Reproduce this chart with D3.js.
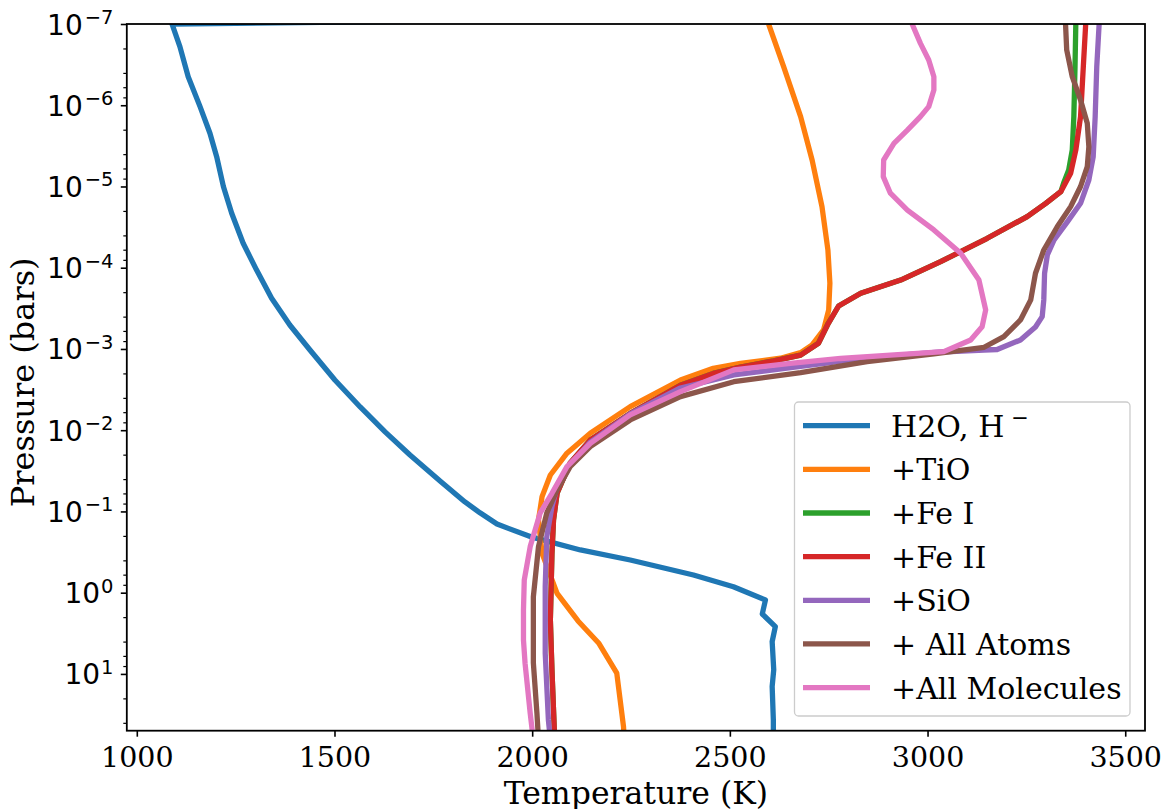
<!DOCTYPE html>
<html>
<head>
<meta charset="utf-8">
<script src="https://cdn.jsdelivr.net/npm/d3@7"></script>
<style>
  body { margin: 0; background: #fff; }
  svg { display: block; }
</style>
</head>
<body>
<svg id="chart"></svg>
<script>
const WIDTH = 1167;
const HEIGHT = 809;

// temperature (K) and pressure (bars) of each profile
const h2oT = [2980, 1089, 1109, 1130, 1160, 1185, 1202, 1219, 1240, 1269, 1303, 1341, 1387, 1438, 1501, 1565, 1628, 1691, 1767, 1830, 1868, 1911, 1995, 2122, 2248, 2408, 2509, 2590, 2582, 2615, 2607, 2611, 2607, 2610, 2610];
const h2oP = [7.9e-8, 1e-7, 1.9e-7, 4.45e-7, 1.04e-6, 2.21e-6, 4.3e-6, 1e-5, 2.14e-5, 5e-5, 1.07e-4, 2.38e-4, 5.07e-4, 1.03e-3, 2.41e-3, 5.18e-3, 1.05e-2, 2.02e-2, 4.21e-2, 7.64e-2, 0.104, 0.143, 0.204, 0.298, 0.396, 0.606, 0.844, 1.23, 1.83, 2.62, 4.0, 8.9, 14.3, 36.8, 65];

const tioT = [2598, 2636, 2679, 2708, 2733, 2748, 2753, 2750, 2737, 2708, 2679, 2628, 2527, 2458, 2375, 2248, 2147, 2088, 2046, 2025, 2016, 2025, 2063, 2116, 2168, 2214, 2231, 2233];
const tioP = [1e-7, 3.35e-7, 1.38e-6, 4.72e-6, 1.77e-5, 6.05e-5, 1.55e-4, 3.31e-4, 5.84e-4, 8.93e-4, 1.11e-3, 1.30e-3, 1.50e-3, 1.73e-3, 2.41e-3, 5.13e-3, 1.09e-2, 1.92e-2, 3.56e-2, 6.58e-2, 0.127, 0.327, 1.02, 2.23, 4.16, 9.81, 44.6, 65];

const feIT = [3375, 3373, 3370, 3366, 3357, 3344, 3337, 3299, 3252, 3151, 3033, 2932, 2831, 2775, 2749, 2724, 2679, 2611, 2527, 2458, 2375, 2248, 2147, 2096, 2063, 2054, 2050, 2046, 2050, 2056, 2057];
const feIP = [1e-7, 3.35e-7, 1.38e-6, 3.56e-6, 6.27e-6, 9.13e-6, 1.16e-5, 1.61e-5, 2.35e-5, 4.34e-5, 8.43e-5, 1.42e-4, 2.06e-4, 2.96e-4, 4.83e-4, 8.51e-4, 1.19e-3, 1.40e-3, 1.67e-3, 2.0e-3, 2.8e-3, 6.2e-3, 1.32e-2, 2.53e-2, 5.98e-2, 0.127, 0.328, 2.17, 8.93, 48.9, 65];

const feIIT = [3400, 3394, 3387, 3375, 3362, 3337, 3299, 3252, 3151, 3033, 2932, 2831, 2775, 2749, 2724, 2679, 2611, 2527, 2458, 2375, 2248, 2147, 2096, 2063, 2054, 2050, 2046, 2050, 2056, 2057];
const feIIP = [1e-7, 3.35e-7, 1.38e-6, 3.56e-6, 6.88e-6, 1.16e-5, 1.61e-5, 2.35e-5, 4.34e-5, 8.43e-5, 1.42e-4, 2.06e-4, 2.96e-4, 4.83e-4, 8.51e-4, 1.19e-3, 1.40e-3, 1.67e-3, 2.0e-3, 2.8e-3, 6.2e-3, 1.32e-2, 2.53e-2, 5.98e-2, 0.127, 0.328, 2.17, 8.93, 48.9, 65];

const sioT = [3434, 3428, 3424, 3419, 3408, 3387, 3354, 3320, 3303, 3296, 3294, 3290, 3273, 3235, 3176, 3143, 3033, 2847, 2679, 2510, 2375, 2248, 2147, 2096, 2061, 2050, 2037, 2033, 2033, 2041, 2046];
const sioP = [1e-7, 3.35e-7, 1.38e-6, 4.3e-6, 8.32e-6, 1.61e-5, 2.71e-5, 4.55e-5, 6.97e-5, 1.17e-4, 2.49e-4, 4.0e-4, 5.36e-4, 7.75e-4, 1.015e-3, 1.03e-3, 1.09e-3, 1.29e-3, 1.64e-3, 2.09e-3, 3.02e-3, 6.31e-3, 1.40e-2, 2.68e-2, 5.44e-2, 8.73e-2, 0.204, 0.843, 5.57, 36.8, 65];

const atomsT = [3349, 3352, 3366, 3387, 3404, 3408, 3404, 3387, 3362, 3328, 3294, 3273, 3261, 3235, 3193, 3143, 3016, 2847, 2679, 2510, 2375, 2248, 2147, 2096, 2063, 2037, 2016, 2003, 2003, 2012, 2016];
const atomsP = [1e-7, 2.09e-7, 4.45e-7, 8.62e-7, 1.67e-6, 3.24e-6, 5.71e-6, 1.0e-5, 1.77e-5, 3.13e-5, 6.05e-5, 1.17e-4, 2.49e-4, 4.4e-4, 7.06e-4, 9.53e-4, 1.15e-3, 1.43e-3, 1.95e-3, 2.53e-3, 3.86e-3, 7.48e-3, 1.59e-2, 2.81e-2, 5.44e-2, 0.104, 0.271, 1.12, 7.32, 30.2, 65];

const molT = [2961, 2982, 3003, 3016, 3016, 3003, 2982, 2949, 2915, 2889, 2888, 2906, 2949, 3016, 3084, 3130, 3147, 3138, 3109, 3041, 2906, 2780, 2653, 2510, 2375, 2248, 2147, 2088, 2050, 2020, 1995, 1980, 1978, 1978, 1982, 1995, 2003];
const molP = [1e-7, 1.73e-7, 2.77e-7, 4.45e-7, 6.49e-7, 1.04e-6, 1.38e-6, 2.02e-6, 2.94e-6, 4.72e-6, 7.57e-6, 1.21e-5, 1.95e-5, 3.43e-5, 6.64e-5, 1.42e-4, 3.31e-4, 5.32e-4, 7.75e-4, 1.08e-3, 1.19e-3, 1.31e-3, 1.50e-3, 1.81e-3, 3.35e-3, 6.49e-3, 1.45e-2, 2.81e-2, 5.98e-2, 0.105, 0.271, 0.697, 1.63, 3.82, 7.39, 30.5, 65];

const labels = ['H2O, H', '+TiO', '+Fe I', '+Fe II', '+SiO', '+ All Atoms', '+All Molecules'];
const colors = ['#1f77b4', '#ff7f0e', '#2ca02c', '#d62728', '#9467bd', '#8c564b', '#e377c2'];
const xTicks = [1000, 1500, 2000, 2500, 3000, 3500];
const yExponents = [-7, -6, -5, -4, -3, -2, -1, 0, 1];

const profiles = [
  [h2oT, h2oP], [tioT, tioP], [feIT, feIP], [feIIT, feIIP],
  [sioT, sioP], [atomsT, atomsP], [molT, molP],
].map(([T, P], i) => ({
  label: labels[i],
  color: colors[i],
  points: T.map((t, j) => ({ t, p: P[j] })),
}));

const plot = { left: 126.8, right: 1145, top: 24, bottom: 730.7 };
const SERIF = '"DejaVu Serif", serif';
const SANS = '"DejaVu Sans", sans-serif';

const svg = d3.select('#chart')
  .attr('width', WIDTH)
  .attr('height', HEIGHT);

const xScale = d3.scaleLinear()
  .domain([974.7, 3550])
  .range([plot.left, plot.right]);
const yScale = d3.scaleLog()
  .domain([1e-7, 50])
  .range([plot.top, plot.bottom]);

svg.append('clipPath')
  .attr('id', 'plot-clip')
  .append('rect')
  .attr('x', plot.left)
  .attr('y', plot.top)
  .attr('width', plot.right - plot.left)
  .attr('height', plot.bottom - plot.top);

const line = d3.line()
  .x(d => xScale(d.t))
  .y(d => yScale(d.p));

svg.append('g')
  .attr('clip-path', 'url(#plot-clip)')
  .selectAll('path')
  .data(profiles)
  .enter()
  .append('path')
  .attr('d', d => line(d.points))
  .attr('fill', 'none')
  .attr('stroke', d => d.color)
  .attr('stroke-width', 5.3)
  .attr('stroke-linejoin', 'round');

// axes
const bottomAxis = d3.axisBottom(xScale)
  .tickValues(xTicks)
  .tickSize(6)
  .tickSizeOuter(0)
  .tickFormat(d3.format('d'));
const gx = svg.append('g')
  .attr('transform', `translate(0, ${plot.bottom})`)
  .call(bottomAxis);
gx.select('.domain').remove();
gx.selectAll('line').attr('stroke', '#000').attr('stroke-width', 1.6);
gx.selectAll('text')
  .attr('y', 36.5)
  .attr('dy', 0)
  .attr('fill', '#000')
  .style('font-family', SERIF)
  .style('font-size', '28.5px');

const minorTicks = [];
yExponents.forEach(e => [2, 4, 6, 8].forEach(m => {
  const v = m * Math.pow(10, e);
  if (v <= 50) minorTicks.push(v);
}));

const gyMinor = svg.append('g')
  .attr('transform', `translate(${plot.left}, 0)`)
  .call(d3.axisLeft(yScale).tickValues(minorTicks).tickSize(3.5).tickSizeOuter(0).tickFormat(''));
gyMinor.select('.domain').remove();
gyMinor.selectAll('line').attr('stroke', '#000').attr('stroke-width', 1.2);

const gy = svg.append('g')
  .attr('transform', `translate(${plot.left}, 0)`)
  .call(d3.axisLeft(yScale)
    .tickValues(yExponents.map(e => Math.pow(10, e)))
    .tickSize(6)
    .tickSizeOuter(0)
    .tickFormat(''));
gy.select('.domain').remove();
gy.selectAll('line').attr('stroke', '#000').attr('stroke-width', 1.6);

const yLabels = svg.append('g')
  .selectAll('text')
  .data(yExponents)
  .enter()
  .append('text')
  .attr('x', 113.5)
  .attr('y', e => yScale(Math.pow(10, e)) + 10.5)
  .attr('text-anchor', 'end')
  .style('font-family', SANS)
  .style('font-size', '28px')
  .attr('fill', '#000');
yLabels.append('tspan').text('10');
yLabels.append('tspan')
  .attr('dy', -10.5)
  .attr('dx', e => (e < 0 ? 2 : 1))
  .style('font-size', '19.5px')
  .text(e => (e < 0 ? '\u2212' + Math.abs(e) : String(e)));

// frame
svg.append('rect')
  .attr('x', plot.left)
  .attr('y', plot.top)
  .attr('width', plot.right - plot.left)
  .attr('height', plot.bottom - plot.top)
  .attr('fill', 'none')
  .attr('stroke', '#000')
  .attr('stroke-width', 1.8);

// axis titles
svg.append('text')
  .attr('x', (plot.left + plot.right) / 2)
  .attr('y', 803.5)
  .attr('text-anchor', 'middle')
  .style('font-family', SERIF)
  .style('font-size', '31.5px')
  .text('Temperature (K)');

svg.append('text')
  .attr('transform', `translate(33.5, ${(plot.top + plot.bottom) / 2 + 5}) rotate(-90)`)
  .attr('text-anchor', 'middle')
  .style('font-family', SERIF)
  .style('font-size', '32px')
  .text('Pressure (bars)');

// legend
const legend = svg.append('g');
legend.append('rect')
  .attr('x', 794.5)
  .attr('y', 402)
  .attr('width', 335.5)
  .attr('height', 314)
  .attr('rx', 4)
  .attr('fill', '#fff')
  .attr('fill-opacity', 0.8)
  .attr('stroke', '#cccccc')
  .attr('stroke-width', 1.3);

const rows = legend.selectAll('g.row')
  .data(profiles)
  .enter()
  .append('g')
  .attr('class', 'row')
  .attr('transform', (d, i) => `translate(0, ${425.7 + i * 43.65})`);
rows.append('line')
  .attr('x1', 803)
  .attr('x2', 870)
  .attr('stroke', d => d.color)
  .attr('stroke-width', 5.3);
const rowText = rows.append('text')
  .attr('x', 891)
  .attr('y', 11)
  .style('font-family', SERIF)
  .style('font-size', '30px')
  .attr('fill', '#000')
  .text(d => d.label);
rowText.filter((d, i) => i === 0)
  .append('tspan')
  .attr('dx', 7)
  .attr('dy', -12)
  .style('font-family', SANS)
  .style('font-size', '21px')
  .text('\u2212');
</script>
</body>
</html>
